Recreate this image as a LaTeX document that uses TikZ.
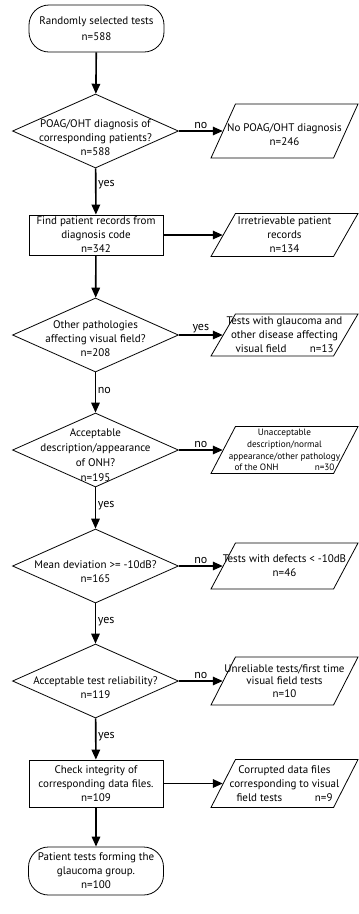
\documentclass[tikz,border=0pt]{standalone}
\usepackage{fontspec}
\setmainfont{PT Sans}
\usetikzlibrary{shapes.geometric,arrows.meta}
\begin{document}
\begin{tikzpicture}[x=1pt,y=-1pt,
  every node/.style={font=\fontsize{11}{14}\selectfont},
  base/.style={draw, line width=0.8pt, inner sep=0pt},
  term/.style={base, rectangle, rounded corners=20pt, minimum width=135pt, minimum height=47pt, align=center},
  proc/.style={base, rectangle, minimum width=134pt, minimum height=#1, align=center},
  dec/.style={base, diamond, minimum width=166pt, minimum height=74pt},
  io/.style={base, inner sep=2pt, trapezium, trapezium left angle=76, trapezium right angle=104,
     trapezium stretches=true, minimum width=147pt, minimum height=#1},
  txt/.style={align=center, yshift=#1},
  flow/.style={line width=1.6pt, -{Triangle[length=10pt,width=8.5pt]}},
  yn/.style={font=\fontsize{12}{14}\selectfont, inner sep=1.5pt}
]
\useasboundingbox (0,0) rectangle (359,914);

% main column
\node[term, font=\fontsize{11}{16.5}\selectfont] (t1) at (96.5,28.5) {Randomly selected tests\\n=588};
\node[dec, label={[txt=-7pt]center:{POAG/OHT diagnosis of\\corresponding patients?\\n=588}}] (d1) at (95.5,131) {};
\node[proc=40pt] (b2) at (96,235) {Find patient records from\\diagnosis code\\n=342};
\node[dec, label={[txt=-4pt]center:{Other pathologies\\affecting visual field?\\n=208}}] (d2) at (95.5,335) {};
\node[dec, label={[txt=-5pt, font=\fontsize{11}{15}\selectfont]center:{Acceptable\\description/appearance\\of ONH?\\n=195}}] (d3) at (95.5,450) {};
\node[dec, label={[txt=-6pt]center:{Mean deviation >= -10dB?\\n=165}}] (d4) at (95.5,566) {};
\node[dec, label={[txt=-7pt]center:{Acceptable test reliability?\\n=119}}] (d5) at (95.5,681) {};
\node[proc=47pt] (b3) at (96,783.5) {Check integrity of\\corresponding data files.\\n=109};
\node[term, minimum height=48pt] (t2) at (96,871) {Patient tests forming the\\glaucoma group.\\n=100};

% side outputs
\node[io=54pt, label={[txt=-4pt]center:{No POAG/OHT diagnosis\\n=246}}] (p1) at (284.5,131) {};
\node[io=43pt, label={[txt=0pt]center:{Irretrievable patient\\records\\n=134}}] (p2) at (284.5,235) {};
\node[io=42pt, label={[txt=0pt]center:{Tests with glaucoma and\\other disease affecting\\\makebox[98pt][s]{visual field\hfill n=13}}}] (p3) at (284.5,335) {};
\node[io=47pt, label={[txt=0pt, font=\fontsize{9.2}{11.8}\selectfont]center:{Unacceptable\\description/normal\\appearance/other pathology\\\makebox[100pt][s]{of the ONH\hfill n=30}}}] (p4) at (284.5,450) {};
\node[io=46pt, label={[txt=0pt]center:{Tests with defects < -10dB\\n=46}}] (p5) at (284.5,566) {};
\node[io=48pt, label={[txt=0pt, font=\fontsize{11}{12.5}\selectfont]center:{Unreliable tests/first time\\visual field tests\\n=10}}] (p6) at (284.5,681) {};
\node[io=48pt, label={[txt=0pt]center:{Corrupted data files\\corresponding to visual\\\makebox[96pt][s]{field tests\hfill n=9}}}] (p7) at (284.5,783.5) {};

% vertical flow
\draw[flow] (t1) -- (d1);
\draw[flow] (d1) -- node[yn, right, pos=0.35] {yes} (b2);
\draw[flow] (b2) -- (d2);
\draw[flow] (d2) -- node[yn, right, pos=0.45] {no} (d3);
\draw[flow] (d3) -- node[yn, right, pos=0.45] {yes} (d4);
\draw[flow] (d4) -- node[yn, right, pos=0.45] {yes} (d5);
\draw[flow] (d5) -- node[yn, right, pos=0.45] {yes} (b3);
\draw[flow] (b3) -- (t2);

% horizontal flow
\draw[flow] (d1) -- node[yn, above, pos=0.5] {no} (p1);
\draw[flow] (b2) -- (p2);
\draw[flow] (d2) -- node[yn, above, pos=0.5] {yes} (p3);
\draw[flow] (d3) -- node[yn, above, pos=0.5] {no} (p4);
\draw[flow] (d4) -- node[yn, above, pos=0.5] {no} (p5);
\draw[flow] (d5) -- node[yn, above, pos=0.5] {no} (p6);
\draw[flow] (b3) -- (p7);
\end{tikzpicture}
\end{document}
